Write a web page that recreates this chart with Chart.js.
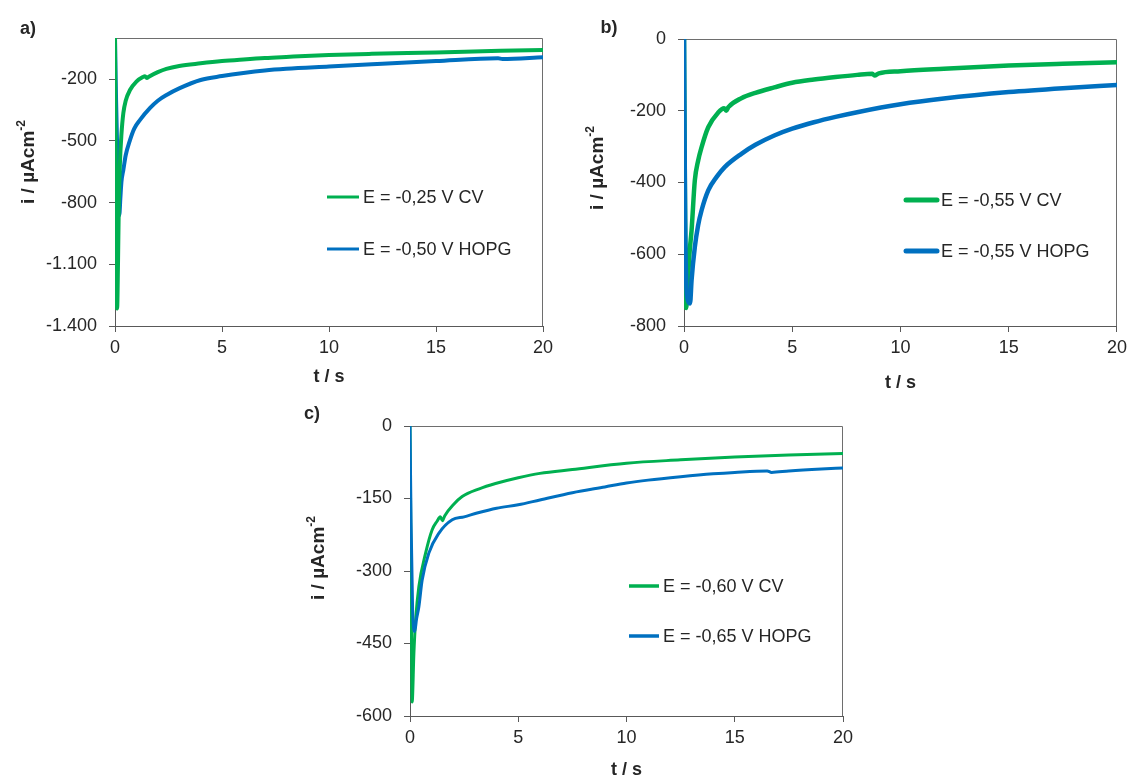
<!DOCTYPE html>
<html><head><meta charset="utf-8">
<script src="https://cdn.jsdelivr.net/npm/chart.js@4.4.1/dist/chart.umd.min.js"></script>
<style>
html,body{margin:0;padding:0;background:#fff;}
#wrap{position:relative;width:1132px;height:781px;overflow:hidden;font-family:"Liberation Sans",Arial,sans-serif;color:#262626;}
canvas{position:absolute;}
.lbl{position:absolute;font-size:18px;font-weight:bold;line-height:1;transform:translate(-50%,-50%);white-space:nowrap;}
.ytitle{position:absolute;font-size:19px;font-weight:bold;white-space:nowrap;line-height:1;transform:translate(-50%,-50%) rotate(-90deg);}
.ytitle sup{font-size:12px;vertical-align:baseline;position:relative;top:-0.75em;}
</style></head><body>
<div id="wrap">
<canvas id="ca" width="570" height="400" style="left:0;top:0"></canvas>
<canvas id="cb" width="562" height="400" style="left:570px;top:0"></canvas>
<canvas id="cc" width="560" height="381" style="left:300px;top:400px"></canvas>
<div class="lbl" style="left:28px;top:28px">a)</div>
<div class="lbl" style="left:609px;top:27px">b)</div>
<div class="lbl" style="left:312px;top:413px">c)</div>
<div class="ytitle" style="left:27px;top:162px">i / µAcm<sup>-2</sup></div>
<div class="ytitle" style="left:596px;top:168px">i / µAcm<sup>-2</sup></div>
<div class="ytitle" style="left:317px;top:558px">i / µAcm<sup>-2</sup></div>
</div>
<script>
// ---------- data ----------
const xTickValues = [0, 5, 10, 15, 20];
const xTitle = 't / s';

// panel a
const aYTicks = [-1400, -1100, -800, -500, -200];
const aYLabels = ['-1.400', '-1.100', '-800', '-500', '-200'];
const aCvLabel = 'E = -0,25 V CV';
const aCvT = [0, 0.02, 0.06, 0.1, 0.14, 0.18, 0.23, 0.3, 0.39, 0.5, 0.7, 1.0, 1.3, 1.4, 1.5, 1.6, 2.0, 2.4, 3.0, 4.0, 5, 6, 7, 8, 10, 12, 15, 18, 20];
const aCvI = [0, -400, -1000, -1315, -1100, -800, -608, -470, -365, -305, -253, -212, -190, -186, -194, -187, -166, -150, -136, -123, -112, -104, -97, -92, -83, -77, -70, -62, -58];
const aHopgLabel = 'E = -0,50 V HOPG';
const aHopgT = [0, 0.05, 0.12, 0.2, 0.25, 0.3, 0.39, 0.5, 0.7, 0.9, 1.17, 1.64, 2.0, 2.41, 3.0, 4.0, 5, 6, 7, 8, 10, 12, 15, 17.9, 18.1, 20];
const aHopgI = [0, -300, -620, -862, -780, -700, -641, -570, -496, -440, -398, -340, -305, -277, -245, -204, -185, -170, -158, -150, -139, -128, -112, -98, -102, -94];

// panel b
const bYTicks = [-800, -600, -400, -200, 0];
const bYLabels = ['-800', '-600', '-400', '-200', '0'];
const bCvLabel = 'E = -0,55 V CV';
const bCvT = [0, 0.04, 0.1, 0.16, 0.25, 0.35, 0.5, 0.65, 0.81, 1.12, 1.58, 1.85, 1.95, 2.05, 2.65, 3.3, 4.17, 5, 6, 7, 8, 8.7, 8.8, 9.0, 10, 12, 15, 17.5, 20];
const bCvI = [0, -400, -750, -700, -600, -533, -394, -340, -302, -246, -205, -193, -200, -190, -165, -150, -135, -122, -113, -106, -100, -97, -102, -96, -90, -83, -74, -69, -65];
const bHopgLabel = 'E = -0,55 V HOPG';
const bHopgT = [0, 0.05, 0.15, 0.28, 0.35, 0.5, 0.65, 0.81, 1.12, 1.5, 1.88, 2.65, 3.3, 4.17, 5, 6, 7, 8, 10, 12, 15, 17.5, 20];
const bHopgI = [0, -500, -720, -737, -672, -580, -520, -478, -422, -385, -357, -320, -295, -269, -250, -232, -217, -204, -182, -166, -148, -137, -128];

// panel c
const cYTicks = [-600, -450, -300, -150, 0];
const cYLabels = ['-600', '-450', '-300', '-150', '0'];
const cCvLabel = 'E = -0,60 V CV';
const cCvT = [0, 0.05, 0.1, 0.18, 0.26, 0.41, 0.72, 1.02, 1.25, 1.4, 1.5, 1.6, 2.0, 2.41, 3.2, 3.95, 5, 6, 7.5, 10, 12.5, 15, 17.5, 20];
const cCvI = [0, -300, -571, -470, -401, -332, -263, -215, -197, -188, -196, -186, -163, -146, -130, -119, -107, -98, -90, -77, -70, -64, -60, -57];
const cHopgLabel = 'E = -0,65 V HOPG';
const cHopgT = [0, 0.05, 0.12, 0.22, 0.3, 0.41, 0.56, 0.87, 1.33, 1.95, 2.5, 3.1, 4, 5, 6, 7.5, 9, 10, 11, 12.5, 14, 15, 16.5, 16.7, 17.5, 19, 20];
const cHopgI = [0, -200, -380, -425, -400, -374, -319, -263, -222, -194, -188, -180, -170, -163, -153, -138, -126, -118, -112, -105, -99, -96, -93, -96, -93, -89, -87];

// ---------- rendering ----------
const GREEN = '#00B050', BLUE = '#0070C0';
const FONT = '"Liberation Sans", Arial, sans-serif';
const TXT = '#262626', AXIS = '#595959', FRAME = '#6e6e6e';

const pts = (t, v) => t.map((x, i) => ({x: x, y: v[i]}));

const framePlugin = {
  id: 'frameLegend',
  beforeDatasetsDraw(chart, args, o) {
    const {ctx, chartArea: a} = chart;
    ctx.save();
    ctx.strokeStyle = FRAME; ctx.lineWidth = 1;
    ctx.beginPath();
    const t = Math.round(a.top) + 0.5, r = Math.round(a.right) - 0.5;
    ctx.moveTo(a.left, t); ctx.lineTo(r, t); ctx.lineTo(r, a.bottom);
    ctx.stroke();
    ctx.restore();
  },
  afterDraw(chart, args, o) {
    const {ctx} = chart;
    ctx.save();
    ctx.font = '18px ' + FONT;
    ctx.textBaseline = 'middle';
    ctx.textAlign = 'left';
    chart.data.datasets.forEach((ds, i) => {
      const y = o.y + i * o.gap;
      ctx.strokeStyle = ds.borderColor;
      ctx.lineWidth = o.lw;
      ctx.lineCap = o.cap;
      ctx.beginPath(); ctx.moveTo(o.x, y); ctx.lineTo(o.x + o.len, y); ctx.stroke();
      ctx.fillStyle = TXT;
      ctx.fillText(ds.label, o.x + o.len + o.pad, y + 1);
    });
    ctx.restore();
  }
};

function makeChart(id, p) {
  const ctx = document.getElementById(id);
  return new Chart(ctx, {
    type: 'line',
    data: {
      datasets: [
        {label: p.cvLabel, data: pts(p.cvT, p.cvI), borderColor: GREEN, borderWidth: p.lw, order: p.greenOrder},
        {label: p.hopgLabel, data: pts(p.hopgT, p.hopgI), borderColor: BLUE, borderWidth: p.lw, order: p.blueOrder}
      ]
    },
    options: {
      responsive: false,
      animation: false,
      events: [],
      layout: {padding: p.pad},
      elements: {point: {radius: 0}, line: {cubicInterpolationMode: 'monotone', borderCapStyle: 'round', borderJoinStyle: 'round'}},
      plugins: {legend: {display: false}, tooltip: {enabled: false}, frameLegend: p.legend},
      scales: {
        x: {
          type: 'linear', min: 0, max: 20,
          afterBuildTicks: s => { s.ticks = xTickValues.map(v => ({value: v})); },
          afterFit: s => { s.height = p.xH; },
          grid: {display: true, drawOnChartArea: false, drawTicks: true, tickLength: 6, color: AXIS},
          border: {display: true, color: AXIS, width: 1},
          ticks: {font: {family: FONT, size: 18}, color: TXT, padding: 5, maxRotation: 0, autoSkip: false},
          title: {display: true, text: xTitle, font: {family: FONT, size: 18, weight: 'bold', lineHeight: 1.2}, color: TXT, padding: {top: 0, bottom: 0}}
        },
        y: {
          type: 'linear', min: p.yMin, max: 0,
          afterBuildTicks: s => { s.ticks = p.yTicks.map(v => ({value: v})); },
          afterFit: s => { s.width = p.yW; },
          grid: {display: true, drawOnChartArea: false, drawTicks: true, tickLength: 6, color: AXIS},
          border: {display: true, color: AXIS, width: 1},
          ticks: {font: {family: FONT, size: 18}, color: TXT, padding: 12,
                  callback: (v) => { const k = p.yTicks.indexOf(v); return k >= 0 ? p.yLabels[k] : ''; }}
        }
      }
    },
    plugins: [framePlugin]
  });
}

makeChart('ca', {
  cvLabel: aCvLabel, cvT: aCvT, cvI: aCvI, hopgLabel: aHopgLabel, hopgT: aHopgT, hopgI: aHopgI,
  lw: 4, greenOrder: 0, blueOrder: 1, yMin: -1400, yTicks: aYTicks, yLabels: aYLabels,
  yW: 115, xH: 62, pad: {left: 0, top: 38, right: 27, bottom: 12},
  legend: {x: 327, y: 197, gap: 52, len: 32, pad: 4, lw: 3, cap: 'butt'}
});
makeChart('cb', {
  cvLabel: bCvLabel, cvT: bCvT, cvI: bCvI, hopgLabel: bHopgLabel, hopgT: bHopgT, hopgI: bHopgI,
  lw: 4.5, greenOrder: 1, blueOrder: 0, yMin: -800, yTicks: bYTicks, yLabels: bYLabels,
  yW: 114, xH: 68, pad: {left: 0, top: 39, right: 12, bottom: 6},
  legend: {x: 336, y: 200, gap: 51, len: 31, pad: 4, lw: 5, cap: 'round'}
});
makeChart('cc', {
  cvLabel: cCvLabel, cvT: cCvT, cvI: cCvI, hopgLabel: cHopgLabel, hopgT: cHopgT, hopgI: cHopgI,
  lw: 3, greenOrder: 1, blueOrder: 0, yMin: -600, yTicks: cYTicks, yLabels: cYLabels,
  yW: 110, xH: 65, pad: {left: 0, top: 26, right: 17, bottom: 0},
  legend: {x: 329, y: 186, gap: 50, len: 30, pad: 4, lw: 3.5, cap: 'butt'}
});
</script>
</body></html>
